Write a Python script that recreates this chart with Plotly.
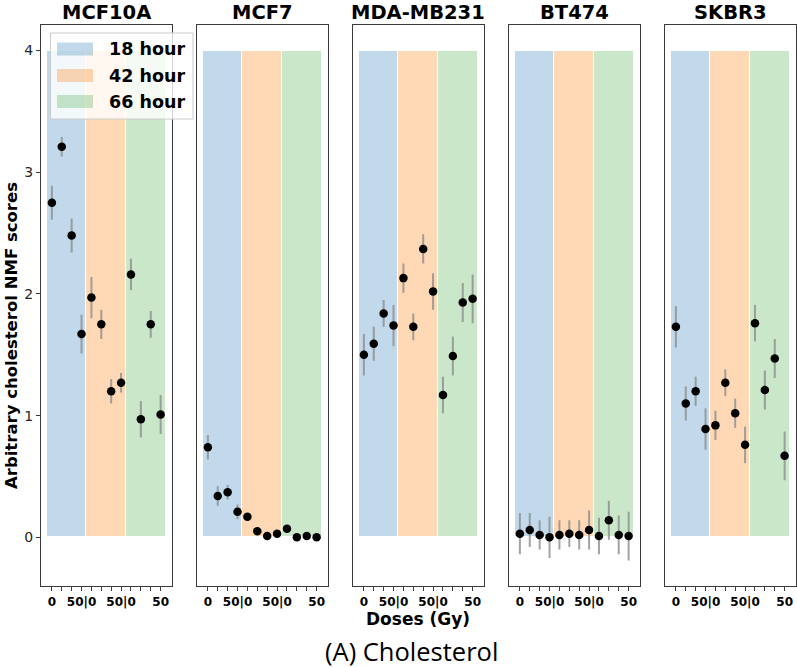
import plotly.graph_objects as go

W, H = 797, 667

cell_lines = ["MCF10A", "MCF7", "MDA-MB231", "BT474", "SKBR3"]
time_points = ["18 hour", "42 hour", "66 hour"]
band_colors = ["rgba(31,119,180,0.28)", "rgba(255,127,14,0.30)", "rgba(44,160,44,0.25)"]
band_top = 4
doses_per_time = 4
tick_text = ["0", "", "", "50|0", "", "", "", "50|0", "", "", "", "50"]
y_ticks = [0, 1, 2, 3, 4]

mcf10a_mean = [2.75, 3.21, 2.48, 1.67, 1.97, 1.75, 1.20, 1.27, 2.16, 0.97, 1.75, 1.01]
mcf10a_err = [0.14, 0.08, 0.14, 0.16, 0.17, 0.12, 0.10, 0.08, 0.13, 0.15, 0.11, 0.16]

mcf7_mean = [0.74, 0.34, 0.37, 0.21, 0.17, 0.05, 0.01, 0.03, 0.07, 0.00, 0.01, 0.00]
mcf7_err = [0.10, 0.08, 0.06, 0.06, 0.02, 0.01, 0.01, 0.01, 0.01, 0.01, 0.01, 0.01]

mda_mean = [1.50, 1.59, 1.84, 1.74, 2.13, 1.73, 2.37, 2.02, 1.17, 1.49, 1.93, 1.96]
mda_err = [0.17, 0.14, 0.11, 0.17, 0.12, 0.11, 0.12, 0.15, 0.15, 0.16, 0.16, 0.20]

bt474_mean = [0.03, 0.06, 0.02, 0.00, 0.02, 0.03, 0.02, 0.06, 0.01, 0.14, 0.02, 0.01]
bt474_err = [0.17, 0.14, 0.12, 0.17, 0.12, 0.11, 0.12, 0.16, 0.15, 0.16, 0.16, 0.20]

skbr3_mean = [1.73, 1.10, 1.20, 0.89, 0.92, 1.27, 1.02, 0.76, 1.76, 1.21, 1.47, 0.67]
skbr3_err = [0.17, 0.14, 0.12, 0.17, 0.12, 0.11, 0.12, 0.15, 0.15, 0.16, 0.16, 0.20]

means = [mcf10a_mean, mcf7_mean, mda_mean, bt474_mean, skbr3_mean]
errs = [mcf10a_err, mcf7_err, mda_err, bt474_err, skbr3_err]


def fx(p):
    return p / W


def fy(p):
    return 1 - p / H


panel_left = 41
panel_w = 130.5
panel_step = 156
y_dom = [fy(586), fy(25)]
axis_color = "#3a3a3a"
bold = dict(family="DejaVu Sans", weight="bold", color="black")

fig = go.Figure()
annotations = []
shapes = []
layout_axes = {}

for i, name in enumerate(cell_lines):
    suffix = "" if i == 0 else str(i + 1)
    xa, ya = "x" + suffix, "y" + suffix
    for t, col in enumerate(band_colors):
        fig.add_trace(go.Bar(
            x=[t * doses_per_time + (doses_per_time - 1) / 2], y=[band_top],
            width=[doses_per_time],
            marker=dict(color=col, line=dict(color="white", width=1)),
            xaxis=xa, yaxis=ya, showlegend=False, hoverinfo="skip"))
    fig.add_trace(go.Scatter(
        x=list(range(len(means[i]))), y=means[i], mode="markers",
        marker=dict(color="black", size=8.5),
        error_y=dict(type="data", array=errs[i], color="rgba(140,140,140,0.8)",
                     thickness=2, width=0),
        xaxis=xa, yaxis=ya, showlegend=False))

    x0 = panel_left + panel_step * i
    dom = [fx(x0), fx(x0 + panel_w)]
    layout_axes["xaxis" + suffix] = dict(
        domain=dom, anchor=ya, range=[-1.1, 12.1],
        tickmode="array", tickvals=list(range(len(tick_text))), ticktext=tick_text,
        ticks="outside", ticklen=4, tickwidth=1, tickcolor=axis_color,
        showline=True, mirror=True, linecolor=axis_color, linewidth=1.2,
        showgrid=False, zeroline=False,
        tickfont=dict(size=12, **bold))
    yax = dict(
        domain=y_dom, anchor=xa, range=[-0.4, 4.21],
        showline=True, mirror=True, linecolor=axis_color, linewidth=1.2,
        showgrid=False, zeroline=False)
    if i == 0:
        yax.update(tickmode="array", tickvals=y_ticks, ticks="outside", ticklen=4,
                   tickwidth=1, tickcolor=axis_color,
                   tickfont=dict(family="DejaVu Sans", size=14, color="#262626"))
    else:
        yax.update(matches="y", showticklabels=False, ticks="")
    layout_axes["yaxis" + suffix] = yax

    annotations.append(dict(
        text=name, x=(dom[0] + dom[1]) / 2, y=fy(12), xref="paper", yref="paper",
        xanchor="center", yanchor="middle", showarrow=False,
        font=dict(size=19.5, **bold)))

# legend (drawn in first panel's upper-left)
shapes.append(dict(type="rect", xref="paper", yref="paper",
                   x0=fx(50.5), x1=fx(193), y0=fy(119), y1=fy(33),
                   fillcolor="rgba(255,255,255,0.8)", line=dict(color="#cccccc", width=1),
                   layer="above"))
row_centers = [49, 75.5, 101.5]
for lab, col, yc in zip(time_points, band_colors, row_centers):
    shapes.append(dict(type="rect", xref="paper", yref="paper",
                       x0=fx(57), x1=fx(93), y0=fy(yc + 6.5), y1=fy(yc - 6.5),
                       fillcolor=col, line=dict(width=0), layer="above"))
    annotations.append(dict(text=lab, x=fx(107), y=fy(yc), xref="paper", yref="paper",
                            xanchor="left", yanchor="middle", showarrow=False,
                            font=dict(size=17.5, **bold)))

annotations.append(dict(text="Arbitrary cholesterol NMF scores", x=fx(11), y=fy(336),
                        xref="paper", yref="paper", textangle=-90,
                        xanchor="center", yanchor="middle", showarrow=False,
                        font=dict(size=16.5, **bold)))
annotations.append(dict(text="Doses (Gy)", x=fx(418), y=fy(619), xref="paper", yref="paper",
                        xanchor="center", yanchor="middle", showarrow=False,
                        font=dict(size=17, **bold)))
annotations.append(dict(text="(A) Cholesterol", x=fx(411), y=fy(651), xref="paper", yref="paper",
                        xanchor="center", yanchor="middle", showarrow=False,
                        font=dict(family="Open Sans", size=25.5, color="black")))

fig.update_layout(
    width=W, height=H, margin=dict(l=0, r=0, t=0, b=0),
    paper_bgcolor="white", plot_bgcolor="white", barmode="overlay",
    bargap=0, showlegend=False,
    annotations=annotations, shapes=shapes, **layout_axes)

fig.write_html("out.html", config={"displayModeBar": False},
               post_script="document.body.style.margin='0px';"
                           "document.body.style.overflow='hidden';")
